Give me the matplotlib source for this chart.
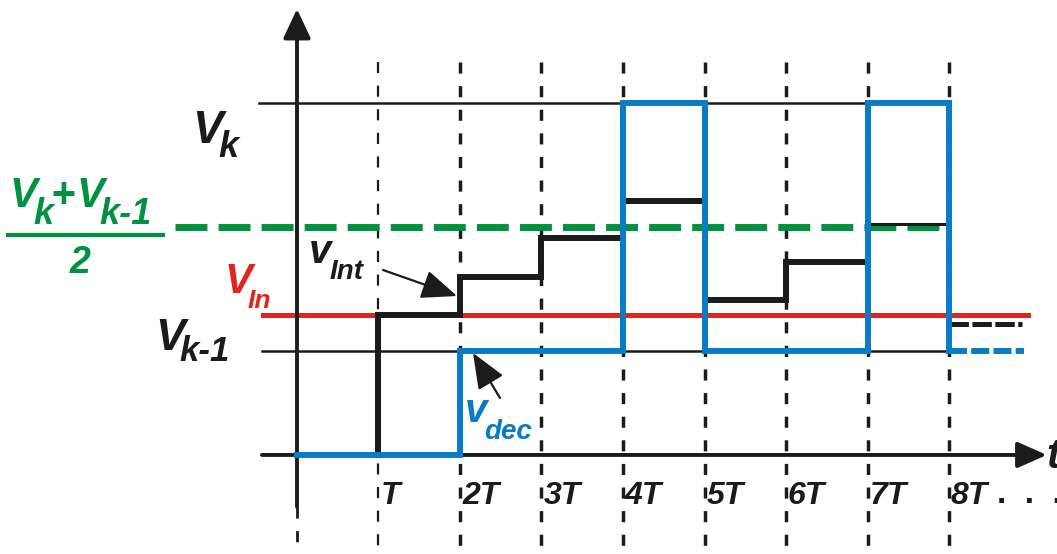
import matplotlib
matplotlib.use("Agg")
import matplotlib.pyplot as plt
from matplotlib.lines import Line2D

# ---- levels (volts, arbitrary units) ----
V_LOW = 1.0          # V_{k-1}
V_HIGH = 3.4         # V_k
V_IN = 1.35          # input level
V_MID = (V_LOW + V_HIGH) / 2

# integrator output, held from each sample instant
int_times = [1, 2, 3, 4, 5, 6, 7, 8]
int_levels = [1.35, 1.72, 2.10, 2.45, 1.50, 1.86, 2.23, 1.27]

# DAC output transitions
dac_times = [0, 2, 4, 5, 7, 8]
dac_levels = [0, V_LOW, V_HIGH, V_LOW, V_HIGH, V_LOW]

tick_times = [1, 2, 3, 4, 5, 6, 7, 8]
tick_labels = ["T", "2T", "3T", "4T", "5T", "6T", "7T", "8T"]

BLACK = "#1b1b1b"
BLUE = "#0a7cc4"
RED = "#e0261c"
GREEN = "#00923f"
FONT = "Liberation Sans"

W, H = 1057, 554
plt.rcParams["lines.scale_dashes"] = False

fig = plt.figure(figsize=(W / 100, H / 100), dpi=100)
ax = fig.add_axes([0, 0, 1, 1])
ax.set_axis_off()
ax.set_xlim(-3.644, 9.325)
ax.set_ylim(-0.957, 4.396)
renderer = fig.canvas.get_renderer()


def fp(x, y):
    """figure fraction from a top-left pixel position"""
    return x / W, 1 - y / H


def chain(x, y, parts, color):
    """write text pieces one after another: (text, size, drop_px, kern_px)"""
    for s, size, drop, kern in parts:
        t = fig.text(*fp(x + kern, y + drop), s, family=FONT, style="italic",
                     weight="bold", size=size, color=color,
                     ha="left", va="baseline")
        x = t.get_window_extent(renderer).x1 + kern


# sampling instants
grid_top = 3.80
for t in tick_times:
    ax.plot([t, t], [grid_top, -0.957], color=BLACK,
            lw=1.6 if t == 1 else 2.5, ls=(0, (8.0, 9.0)),
            dash_capstyle="butt", zorder=1)
ax.plot([0, 0], [-0.5, -0.957], color=BLACK, lw=2.0,
        ls=(0, (8.0, 9.0)), zorder=1)

# reference levels
ax.plot([-0.47, 8], [V_HIGH, V_HIGH], color=BLACK, lw=1.8, zorder=2)
ax.plot([-0.43, 8], [V_LOW, V_LOW], color=BLACK, lw=1.8, zorder=2)
ax.plot([-1.50, 7.95], [V_MID, V_MID], color=GREEN, lw=5.0,
        ls=(0, (23, 8)), zorder=3)
ax.plot([-0.42, 8.97], [V_IN, V_IN], color=RED, lw=3.6, zorder=3)

# axes with arrowheads
ax.annotate("", xy=(0, 4.31), xytext=(0, -0.5),
            arrowprops=dict(arrowstyle="-|>,head_length=0.9,head_width=0.42",
                            lw=2.8, color=BLACK, shrinkA=0, shrinkB=0,
                            mutation_scale=20), zorder=5)
ax.annotate("", xy=(9.20, 0), xytext=(-0.43, 0),
            arrowprops=dict(arrowstyle="-|>,head_length=0.9,head_width=0.4",
                            lw=2.8, color=BLACK, shrinkA=0, shrinkB=0,
                            mutation_scale=20), zorder=5)

# integrator output
xs = [int_times[0]] + int_times[:6] + [int_times[6]]
ys = [0] + int_levels[:6] + [int_levels[5]]
ax.step(xs, ys, where="post", color=BLACK, lw=4.3, zorder=4,
        solid_joinstyle="miter")
ax.step(int_times[6:8] + [int_times[7]],
        [int_levels[6], int_levels[6], int_levels[7]],
        where="pre", color=BLACK, lw=2.2, zorder=4)
ax.plot([7, 7], [int_levels[5], int_levels[6]], color=BLACK, lw=2.2, zorder=4)
ax.plot([8, 8.9], [int_levels[7], int_levels[7]], color=BLACK, lw=3.6,
        ls=(0, (14, 2.5)), zorder=4)

# DAC output
ax.step(dac_times, dac_levels, where="post", color=BLUE, lw=4.3, zorder=6,
        solid_joinstyle="miter")
ax.plot([8, 8.92], [dac_levels[-1], dac_levels[-1]], color=BLUE, lw=4.3,
        ls=(0, (13, 3)), zorder=6)

# time labels
for t, lab in zip(tick_times, tick_labels):
    x_px = 297 + t * 81.5 + 2
    fig.text(*fp(x_px, 504), lab, family=FONT, style="italic",
             weight="bold", size=23, color=BLACK, ha="left", va="baseline")
fig.text(*fp(997, 503), ".  .  .", family=FONT, weight="bold",
         size=24, color=BLACK, ha="left", va="baseline")
fig.text(*fp(1046, 468), "t", family=FONT, style="italic",
         weight="bold", size=30, color=BLACK, ha="left", va="baseline")

# level labels
chain(192, 143, [("V", 33, 0, 0), ("k", 26, 14, -4)], BLACK)
chain(155, 350, [("V", 32, 0, 0), ("k-1", 25, 11, -5)], BLACK)
chain(225, 293, [("V", 30, 0, 0), ("In", 19, 15, -5)], RED)
chain(10, 207, [("V", 30, 0, 0), ("k", 26, 17, -4), ("+", 30, 0, 1),
                ("V", 30, 0, 0), ("k-1", 26, 17, -4)], GREEN)
fig.text(*fp(80, 273), "2", family=FONT, style="italic", weight="bold",
         size=27, color=GREEN, ha="center", va="baseline")
fig.add_artist(Line2D([8 / W, 163 / W], [1 - 235 / H, 1 - 235 / H],
                      color=GREEN, lw=3.0))

# signal names with pointers
chain(309, 263, [("v", 29, 0, 0), ("Int", 20, 16, -2)], BLACK)
chain(465, 422, [("v", 29, 0, 0), ("dec", 20, 17, -3)], BLUE)
ax.annotate("", xy=fp(457, 296), xytext=fp(383, 270),
            xycoords="figure fraction", textcoords="figure fraction",
            arrowprops=dict(arrowstyle="-|>,head_length=1.1,head_width=0.45",
                            lw=1.6, color=BLACK, shrinkA=0, shrinkB=0,
                            mutation_scale=20), zorder=7)
ax.annotate("", xy=fp(473, 353), xytext=fp(500, 398),
            xycoords="figure fraction", textcoords="figure fraction",
            arrowprops=dict(arrowstyle="-|>,head_length=1.1,head_width=0.45",
                            lw=1.6, color=BLACK, shrinkA=0, shrinkB=0,
                            mutation_scale=20), zorder=7)

fig.savefig("out.png", dpi=100)
